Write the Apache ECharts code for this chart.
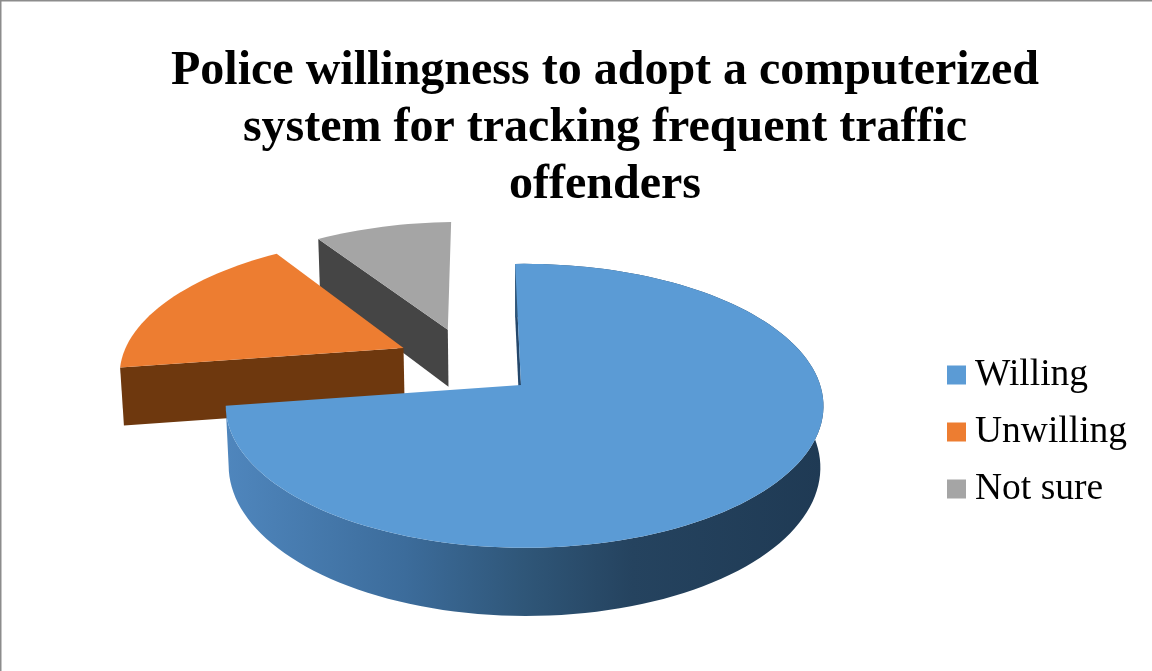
<!DOCTYPE html>
<html>
<head>
<meta charset="utf-8">
<style>html,body{margin:0;padding:0;background:#fff}#chart{width:1152px;height:671px}</style>
<script src="https://cdn.jsdelivr.net/npm/echarts@6/dist/echarts.min.js"></script>
</head>
<body>
<div id="chart"></div>
<script>
// Survey shares, in percent
const sliceNames = ['Willing', 'Unwilling', 'Not sure'];
const sliceValues = [73, 18, 9];
const titleLines = [
  'Police willingness to adopt a computerized',
  'system for tracking frequent traffic',
  'offenders'
];

// Slice colours: top face and side walls
const faceColors = ['#5b9bd5', '#ed7d31', '#a5a5a5'];
const wallColors = ['#24476b', '#6e380e', '#454545'];

// Perspective camera for the tilted disc
const view = {
  originX: 521, originY: 385,  // screen position of the disc plane origin
  scaleX: 298.6, scaleY: 140.3,
  tilt: 0.148,                 // foreshortening towards the back
  skew: -0.012,                // the right side sits slightly nearer
  thickness: 60.5,             // drop of the lower rim
  lowerTilt: 0.01,
  radius: 0.99,
  explodeX: 0.245,
  explodeY: 0.262,
  startAngle: -1.3
};

function direction(deg) {
  const a = deg * Math.PI / 180;
  return [Math.sin(a), Math.cos(a)];
}

function project(u, v, lower) {
  const w = 1 + view.tilt * v + view.skew * u + (lower ? view.lowerTilt : 0);
  return [
    view.originX + view.scaleX * u / w,
    view.originY + (-view.scaleY * v + (lower ? view.thickness : 0)) / w
  ];
}

const total = sliceValues.reduce((a, b) => a + b, 0);
const sliceAngles = [];
let running = view.startAngle;
sliceValues.forEach(value => {
  const sweep = value / total * 360;
  sliceAngles.push([running, running + sweep]);
  running += sweep;
});

// The first slice's tip sits on the plane origin; the pie centre follows from it
const firstMid = direction((sliceAngles[0][0] + sliceAngles[0][1]) / 2);
const pieCentre = [-view.explodeX * firstMid[0], -view.explodeY * firstMid[1]];

function renderSlice(index) {
  const [from, to] = sliceAngles[index];
  const mid = direction((from + to) / 2);
  const tip = [pieCentre[0] + view.explodeX * mid[0], pieCentre[1] + view.explodeY * mid[1]];
  const rim = [];
  const steps = Math.max(12, Math.round((to - from) / 2));
  for (let i = 0; i <= steps; i++) {
    const d = direction(from + (to - from) * i / steps);
    rim.push([tip[0] + view.radius * d[0], tip[1] + view.radius * d[1]]);
  }
  const up = p => project(p[0], p[1], false);
  const down = p => project(p[0], p[1], true);
  const first = rim[0];

  const poly = (points, fill) => ({
    type: 'polygon',
    shape: { points },
    style: { fill }
  });

  // The cut along the slice's leading edge faces the viewer
  const children = [
    poly([up(tip), up(first), down(first), down(tip)], wallColors[index])
  ];
  // Only an arc that reaches the near half of the disc shows its outer wall
  if (from < 180 && to > 180) {
    children.push(poly(rim.map(up).concat(rim.slice().reverse().map(down)),
      new echarts.graphic.LinearGradient(0, 0, 1, 0, [
        { offset: 0, color: '#4f86bd' },
        { offset: 0.3, color: '#3c6c9b' },
        { offset: 0.5, color: '#2f5678' },
        { offset: 0.68, color: '#25435f' },
        { offset: 1, color: '#1f3a54' }
      ])));
  }
  children.push(poly([up(tip)].concat(rim.map(up)), faceColors[index]));
  return { type: 'group', children };
}

const chart = echarts.init(document.getElementById('chart'), null, { renderer: 'canvas' });

chart.setOption({
  animation: false,
  backgroundColor: '#ffffff',
  title: {
    text: titleLines.join('\n'),
    left: 600,
    top: 38,
    textAlign: 'center',
    textStyle: {
      fontFamily: '"Liberation Serif", serif',
      fontWeight: 'bold',
      fontSize: 48,
      lineHeight: 57,
      color: '#000000'
    }
  },
  legend: {
    orient: 'vertical',
    left: 942,
    top: 351,
    icon: 'rect',
    itemWidth: 19,
    itemHeight: 19,
    itemGap: 19,
    data: sliceNames,
    selectedMode: false,
    textStyle: {
      fontFamily: '"Liberation Serif", serif',
      fontSize: 37.5,
      lineHeight: 38,
      color: '#000000',
      padding: [0, 0, 0, 4]
    }
  },
  graphic: [
    { type: 'rect', shape: { x: 0, y: 0, width: 1152, height: 1.5 }, style: { fill: '#8c8c8c' }, silent: true },
    { type: 'rect', shape: { x: 0, y: 0, width: 1.5, height: 671 }, style: { fill: '#8c8c8c' }, silent: true }
  ],
  // Far slices are layered first so nearer ones cover them
  series: sliceNames.map((name, i) => ({
    type: 'custom',
    name,
    coordinateSystem: 'none',
    z: 10 - i,
    silent: true,
    itemStyle: { color: faceColors[i] },
    data: [sliceValues[i]],
    renderItem: () => renderSlice(i)
  }))
});
</script>
</body>
</html>
